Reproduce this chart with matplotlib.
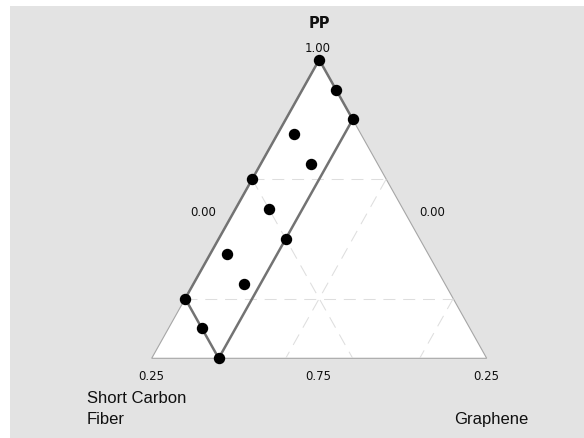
import numpy as np
import matplotlib
matplotlib.use("Agg")
import matplotlib.pyplot as plt
from matplotlib.patches import Rectangle, Polygon

# mixture design runs, actual proportions (PP + SCF + graphene = 1)
pp = [1.000, 0.975, 0.950, 0.9375, 0.9125, 0.900, 0.875, 0.850,
      0.8375, 0.8125, 0.800, 0.775, 0.750]
scf = [0.00, 0.00, 0.00, 0.05, 0.05, 0.10, 0.10, 0.10,
       0.15, 0.15, 0.20, 0.20, 0.20]
graphene = [0.000, 0.025, 0.050, 0.0125, 0.0375, 0.000, 0.025, 0.050,
            0.0125, 0.0375, 0.000, 0.025, 0.050]

# component bounds shown on the simplex
pp_low, pp_high = 0.75, 1.00
scf_high, gr_high = 0.25, 0.25
scf_max_run, gr_max_run = 0.20, 0.05   # constraint region

# grid lines in pseudo-component units
grid_pp = [0.2, 0.6]
grid_scf = [0.4, 0.8]
grid_gr = [0.4, 0.8]

W, H = 584, 439


def xy(p, g):
    """pseudo components -> plotting coordinates (x across, y up)"""
    p = np.asarray(p, float)
    g = np.asarray(g, float)
    return g + p / 2.0, p


def pseudo(a_pp, a_gr):
    span = pp_high - pp_low
    return (np.asarray(a_pp) - pp_low) / span, np.asarray(a_gr) / span


fig = plt.figure(figsize=(W / 100, H / 100), dpi=100)
fig.patch.set_facecolor("white")
bg = Rectangle((10 / W, 0), 1 - 10 / W, 1 - 7 / H,
               transform=fig.transFigure, facecolor="#e3e3e3",
               edgecolor="none", zorder=-10)
fig.add_artist(bg)

ax = fig.add_axes([151.7 / W, 1 - 359.3 / H, 335 / W, 298.6 / H])
ax.set_zorder(1)
ax.set_xlim(0, 1)
ax.set_ylim(0, 1)
ax.axis("off")

# simplex outline
tri = np.array([xy(1, 0), xy(0, 0), xy(0, 1)])
ax.add_patch(Polygon(tri, closed=True, facecolor="white",
                     edgecolor="#a6a6a6", lw=0.8, zorder=1, clip_on=False))

# dashed grid
gkw = dict(color="#dedede", lw=0.75, dashes=(11.5, 7.5), zorder=2)
for v in grid_pp:
    x, y = xy([v, v], [0, 1 - v])
    ax.plot(x, y, **gkw)
for v in grid_scf:
    # constant SCF: from left edge (g=0) to bottom (p=0)
    x, y = xy([1 - v, 0], [0, 1 - v])
    ax.plot(x, y, **gkw)
for v in grid_gr:
    x, y = xy([1 - v, 0], [v, v])
    ax.plot(x, y, **gkw)

# constrained region (parallelogram)
span = pp_high - pp_low
sm = scf_max_run / span
gm = gr_max_run / span
region_p = [1, 1 - gm, 1 - gm - sm, 1 - sm, 1]
region_g = [0, gm, gm, 0, 0]
rx, ry = xy(region_p, region_g)
ax.plot(rx, ry, color="#737373", lw=1.8, zorder=3, solid_joinstyle="miter",
        clip_on=False)

# design points
p_runs, g_runs = pseudo(pp, graphene)
px, py = xy(p_runs, g_runs)
ax.plot(px, py, "o", color="black", ms=7.2, zorder=4, clip_on=False)

# labels
tc = "#101010"
num = dict(fontsize=8.5, color=tc, ha="center", va="baseline",
           family="DejaVu Sans")


def ftext(xp, yp, s, **kw):
    fig.text(xp / W, 1 - yp / H, s, **kw)


ftext(319, 27.5, "PP", fontsize=10.5, fontweight="bold", color=tc,
      ha="center", va="baseline", family="DejaVu Sans")
ftext(318, 52, f"{pp_high:.2f}", **num)
ftext(203.5, 216, "0.00", **num)
ftext(432.5, 216, "0.00", **num)
ftext(151, 380, f"{scf_high:.2f}", **num)
ftext(318.5, 380, f"{pp_low:.2f}", **num)
ftext(486, 380, f"{gr_high:.2f}", **num)

lab = dict(fontsize=12, color=tc, ha="left", va="baseline",
           family="Liberation Sans")
ftext(87, 403.5, "Short Carbon", **lab)
ftext(87, 424.5, "Fiber", **lab)
ftext(454, 424, "Graphene", **lab)

fig.savefig("out.png", dpi=100, facecolor=fig.get_facecolor())
